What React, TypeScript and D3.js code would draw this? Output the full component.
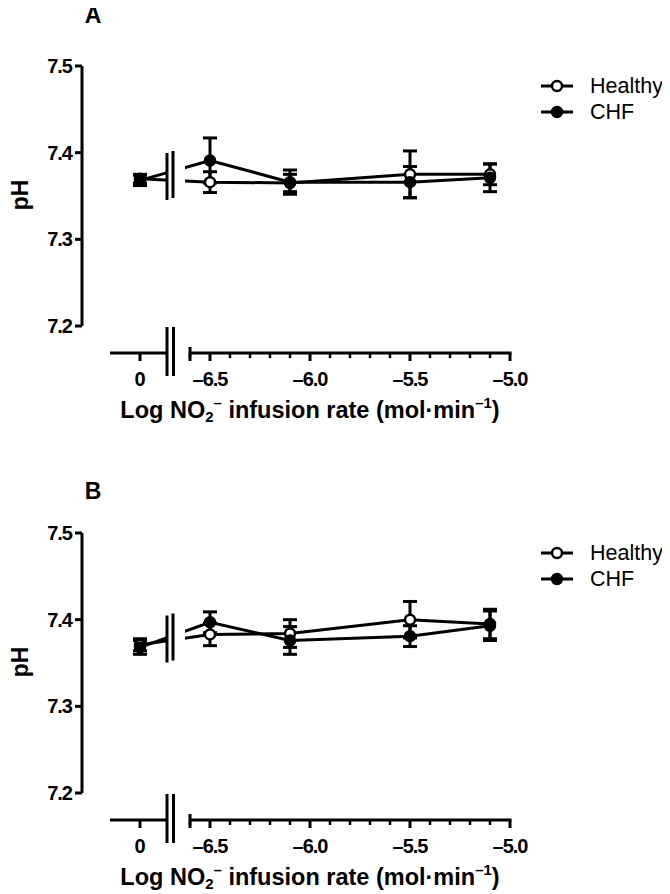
import React from "react";
import * as d3 from "d3";

const xValues = [0, -6.5, -6.1, -5.5, -5.1];
const seriesNames = ["Healthy", "CHF"];
const panelLabels = ["A", "B"];

// Panel A
const healthyA = [7.37, 7.366, 7.365, 7.375, 7.375];
const healthyErrA = [0.005, 0.012, 0.01, 0.027, 0.012];
const chfA = [7.368, 7.391, 7.366, 7.366, 7.371];
const chfErrA = [0.006, 0.026, 0.014, 0.018, 0.016];

// Panel B
const healthyB = [7.371, 7.383, 7.384, 7.4, 7.395];
const healthyErrB = [0.007, 0.013, 0.016, 0.021, 0.017];
const chfB = [7.368, 7.397, 7.376, 7.381, 7.393];
const chfErrB = [0.008, 0.012, 0.016, 0.012, 0.017];

const yTicks = [7.2, 7.3, 7.4, 7.5];
const xMajorTicks = [-6.5, -6.0, -5.5, -5.0];

const FONT = "'Liberation Sans', Arial, Helvetica, sans-serif";

function fmt(v: number) {
  return v < 0 ? "\u2013" + Math.abs(v).toFixed(1) : String(v);
}

function Panel({ dy, labelY, label, healthy, hErr, chf, cErr, idx }: any) {
  const y = d3.scaleLinear().domain([7.2, 7.5]).range([326 + dy, 66 + dy]);
  const xr = d3.scaleLinear().domain([-6.6, -5.0]).range([190, 510]);
  const x0 = 140;
  const xp = (v: number) => (v === 0 ? x0 : xr(v));
  const axisY = 353 + dy;
  const minor = d3.range(-66, -49, 1).map((v) => v / 10);
  const clipId = "clip" + idx;
  const line = d3
    .line<number>()
    .x((_, i) => xp(xValues[i]))
    .y((v) => y(v));
  const series = [
    { name: seriesNames[0], vals: healthy, errs: hErr, open: true },
    { name: seriesNames[1], vals: chf, errs: cErr, open: false },
  ];
  // break mark on data lines: centred on mean of lines at break
  const bx = 170;
  const t = (bx - x0) / (xp(xValues[1]) - x0);
  const yAtBreak = d3.mean(series.map((s) => y(s.vals[0] + (s.vals[1] - s.vals[0]) * t))) as number;
  return (
    <g>
      <defs>
        <clipPath id={clipId}>
          <rect x={0} y={dy} width={168} height={440} />
          <rect x={185} y={dy} width={485} height={440} />
        </clipPath>
      </defs>
      <text x={93} y={labelY} fontSize={23} fontWeight="bold" fontFamily={FONT} textAnchor="middle" dominantBaseline="central">
        {label}
      </text>
      {/* y axis */}
      <line x1={82} x2={82} y1={y(7.5)} y2={y(7.2)} stroke="#000" strokeWidth={3} />
      {yTicks.map((tk) => (
        <g key={tk}>
          <line x1={75} x2={82} y1={y(tk)} y2={y(tk)} stroke="#000" strokeWidth={3} />
          <text x={72} y={y(tk)} fontSize={20} fontWeight="bold" fontFamily={FONT} textAnchor="end" dominantBaseline="central" letterSpacing={-1}>
            {tk.toFixed(1)}
          </text>
        </g>
      ))}
      <text
        transform={`translate(20,${195 + dy}) rotate(-90)`}
        fontSize={23}
        fontWeight="bold"
        fontFamily={FONT}
        textAnchor="middle"
        dominantBaseline="central"
      >
        pH
      </text>
      {/* x axis left segment */}
      <line x1={110} x2={167} y1={axisY} y2={axisY} stroke="#000" strokeWidth={3} />
      <line x1={x0} x2={x0} y1={axisY} y2={axisY + 8} stroke="#000" strokeWidth={3} />
      <text x={x0} y={axisY + 26} fontSize={20} fontWeight="bold" fontFamily={FONT} textAnchor="middle" dominantBaseline="central">
        0
      </text>
      {/* break marks */}
      <line x1={167} x2={167} y1={327 + dy} y2={376 + dy} stroke="#000" strokeWidth={3} />
      <line x1={173.5} x2={173.5} y1={327 + dy} y2={376 + dy} stroke="#000" strokeWidth={3} />
      {/* x axis right segment */}
      <line x1={xr(-6.6)} x2={xr(-5.0) + 1.5} y1={axisY} y2={axisY} stroke="#000" strokeWidth={3} />
      <line x1={xr(-6.6)} x2={xr(-6.6)} y1={axisY - 6} y2={axisY + 8} stroke="#000" strokeWidth={3} />
      {minor.map((tk) => {
        const major = xMajorTicks.some((m) => Math.abs(m - tk) < 1e-6);
        return (
          <line key={tk} x1={xr(tk)} x2={xr(tk)} y1={axisY} y2={axisY + (major ? 8 : 5)} stroke="#000" strokeWidth={major ? 3 : 2.5} />
        );
      })}
      {xMajorTicks.map((tk) => (
        <text key={tk} x={xr(tk)} y={axisY + 26} fontSize={20} fontWeight="bold" fontFamily={FONT} textAnchor="middle" dominantBaseline="central" letterSpacing={-1}>
          {fmt(tk)}
        </text>
      ))}
      <text x={310} y={axisY + 57} fontSize={23.5} fontWeight="bold" fontFamily={FONT} textAnchor="middle" dominantBaseline="central">
        Log NO
        <tspan fontSize={15} dy={6}>2</tspan>
        <tspan fontSize={15} dy={-14}>{"\u2013"}</tspan>
        <tspan dy={8}> infusion rate (mol·min</tspan>
        <tspan fontSize={15} dy={-8}>{"\u2013"}1</tspan>
        <tspan dy={8}>)</tspan>
      </text>
      {/* data */}
      {series.map((s) => (
        <g key={s.name}>
          <path d={line(s.vals) || ""} fill="none" stroke="#000" strokeWidth={3} clipPath={`url(#${clipId})`} />
          {s.vals.map((v: number, i: number) => {
            const cx = xp(xValues[i]);
            const e = s.errs[i];
            return (
              <g key={i}>
                <line x1={cx} x2={cx} y1={y(v + e)} y2={y(v - e)} stroke="#000" strokeWidth={3} />
                <line x1={cx - 7} x2={cx + 7} y1={y(v + e)} y2={y(v + e)} stroke="#000" strokeWidth={3} />
                <line x1={cx - 7} x2={cx + 7} y1={y(v - e)} y2={y(v - e)} stroke="#000" strokeWidth={3} />
              </g>
            );
          })}
        </g>
      ))}
      {/* data break marks */}
      <line x1={167} x2={167} y1={yAtBreak - 23} y2={yAtBreak + 24} stroke="#000" strokeWidth={3} />
      <line x1={173} x2={173} y1={yAtBreak - 25} y2={yAtBreak + 22} stroke="#000" strokeWidth={3} />
      {series.map((s) =>
        s.vals.map((v: number, i: number) => (
          <circle
            key={s.name + i}
            cx={xp(xValues[i])}
            cy={y(v)}
            r={5}
            fill={s.open ? "#fff" : "#000"}
            stroke="#000"
            strokeWidth={2.5}
          />
        ))
      )}
      {/* legend */}
      {series.map((s, i) => {
        const ly = 86 + dy + i * 26;
        return (
          <g key={"lg" + s.name}>
            <line x1={541} x2={573} y1={ly} y2={ly} stroke="#000" strokeWidth={3} />
            <circle cx={557} cy={ly} r={5} fill={s.open ? "#fff" : "#000"} stroke="#000" strokeWidth={2.5} />
            <text x={590} y={ly} fontSize={21.5} fontFamily={FONT} dominantBaseline="central">
              {s.name}
            </text>
          </g>
        );
      })}
    </g>
  );
}

export default function App() {
  return (
    <svg width={670} height={894} style={{ display: "block", margin: "-8px 0 0 -8px" }}>
      <rect x={0} y={0} width={670} height={894} fill="#fff" />
      <Panel dy={0} labelY={15} label={panelLabels[0]} healthy={healthyA} hErr={healthyErrA} chf={chfA} cErr={chfErrA} idx={0} />
      <Panel dy={467} labelY={491} label={panelLabels[1]} healthy={healthyB} hErr={healthyErrB} chf={chfB} cErr={chfErrB} idx={1} />
    </svg>
  );
}
